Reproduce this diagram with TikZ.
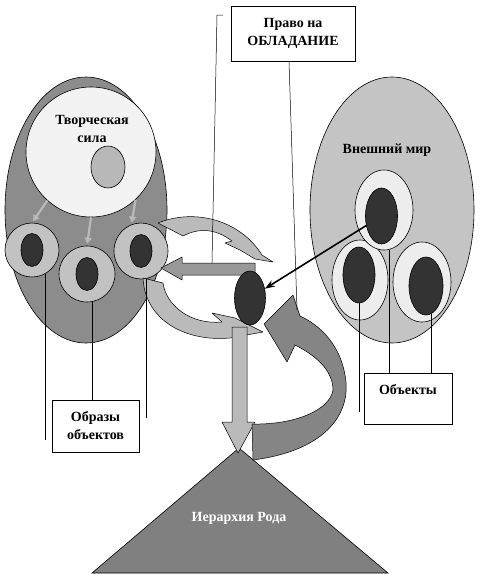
\documentclass[tikz,border=0pt]{standalone}
\usepackage{fontspec}
\setmainfont{Liberation Serif}
\usetikzlibrary{shapes.geometric,arrows.meta,positioning}

\definecolor{shellgray}{gray}{0.55}
\definecolor{glowgray}{gray}{0.95}
\definecolor{sparkgray}{gray}{0.72}
\definecolor{ringgray}{gray}{0.76}
\definecolor{seedgray}{gray}{0.2}
\definecolor{worldgray}{gray}{0.77}
\definecolor{palering}{gray}{0.93}
\definecolor{palegray}{gray}{0.73}
\definecolor{midgray}{gray}{0.6}
\definecolor{darkband}{gray}{0.52}
\definecolor{rankgray}{gray}{0.5}

\newcommand{\labelfont}{\bfseries\fontsize{14}{18}\selectfont}

\tikzset{
  blob/.style={ellipse, draw, line width=0.6pt, inner sep=0pt},
  ring/.style={blob, fill=ringgray},
  seed/.style={blob, fill=seedgray},
  label box/.style={draw, fill=white, line width=0.6pt, align=center, font=\labelfont, inner sep=0pt},
  caption/.style={font=\labelfont, align=center},
  lead/.style={line width=0.5pt},
  band/.style={draw, line width=0.5pt, line join=round},
  drip/.style={draw=palegray, line width=2.2pt, -{Triangle[length=6pt,width=7pt]}, shorten >=2pt}
}

\begin{document}
\begin{tikzpicture}[x=1pt, y=-1pt]
  % fix the page to the size of the picture
  \useasboundingbox (0,0) rectangle (480,574);

  % define the left oval with the creative force
  \node[blob, fill=shellgray, minimum width=162pt, minimum height=266pt] (mind) at (86,210) {};
  \node[blob, fill=glowgray, minimum width=130pt, minimum height=130pt] (force) at (91,152) {};
  \node[blob, fill=sparkgray, minimum width=34pt, minimum height=42pt] (spark) at (108,167) {};
  \node[caption] (forcetext) at (92,129) {Творческая\\сила};

  % images of the objects inside the left oval
  \node[ring, minimum width=54pt, minimum height=54pt] (ringL) at (32,250) {};
  \node[seed, minimum width=22pt, minimum height=33pt] (seedL) at (ringL) {};
  \node[ring, minimum width=56pt, minimum height=56pt] (ringM) at (87,274) {};
  \node[seed, minimum width=22pt, minimum height=33pt] (seedM) at (ringM) {};
  \node[ring, minimum width=54pt, minimum height=56pt] (ringR) at (141,251) {};
  \node[seed, minimum width=22pt, minimum height=33pt] (seedR) at (ringR) {};

  % small arrows from the force down to the images
  \draw[drip] (force.-132) -- (ringL.north);
  \draw[drip] (force.south) -- (ringM.north);
  \draw[drip] (force.-47) -- (ringR.110);

  % define the right oval with the outer world
  \node[blob, fill=worldgray, minimum width=164pt, minimum height=266pt] (world) at (392,210) {};
  \node[caption] (worldtext) at (387,150) {Внешний мир};
  \node[blob, fill=palering, minimum width=56pt, minimum height=80pt] (objB) at (360,280) {};
  \node[seed, minimum width=32pt, minimum height=56pt] (coreB) at (359,275) {};
  \node[blob, fill=palering, minimum width=58pt, minimum height=80pt] (objC) at (422,282) {};
  \node[seed, minimum width=34pt, minimum height=58pt] (coreC) at (426,286) {};
  \node[blob, fill=palering, minimum width=58pt, minimum height=80pt] (objA) at (384,210) {};
  \node[seed, minimum width=32pt, minimum height=56pt] (coreA) at (381.5,216) {};

  % the hierarchy of the kin
  \draw[fill=rankgray, line width=0.6pt] (239,448) -- (388,573) -- (92,573) -- cycle;
  \node[caption, text=white] (rank) at (239,518) {Иерархия Рода};

  % curved arrows round the centre
  \draw[band, fill=palegray] (158,223) .. controls (195,208) and (240,220) .. (262,255)
    -- (273,262) -- (255,259) -- (240,250) -- (225,243) -- (232,241)
    .. controls (215,228) and (198,228) .. (183,236) -- cycle;
  \draw[band, fill=palegray] (143,278) .. controls (145,320) and (185,342) .. (230,338)
    -- (263,332) -- (235,318) -- (212,313) -- (222,322)
    .. controls (190,325) and (166,305) .. (163,283) -- cycle;
  % straight arrows from the centre
  \draw[band, fill=midgray] (255,263) -- (182,263) -- (182,257) -- (161,268)
    -- (182,280) -- (182,275) -- (255,275) -- cycle;
  \draw[band, fill=palegray] (232,327) -- (232,422) -- (222,422) -- (238,453)
    -- (255,422) -- (247,422) -- (247,327) -- cycle;
  % big arrow back from the hierarchy
  \draw[band, fill=darkband] (253,460) .. controls (330,450) and (352,410) .. (345,375)
    .. controls (340,345) and (320,325) .. (300,316) -- (293,295) -- (264,324)
    -- (287,362) -- (295,345) .. controls (315,355) and (333,370) .. (333,390)
    .. controls (330,410) and (295,425) .. (252,424) -- cycle;

  % the centre
  \node[seed, minimum width=31pt, minimum height=54pt] (core) at (250,298) {};
  \draw[-{Stealth[length=10pt,width=7pt]}, line width=1.6pt] (coreA) -- (core);

  % define the boxes
  \node[label box, minimum width=124pt, minimum height=55pt] (ownbox) at (293,33.5) {Право на\\ОБЛАДАНИЕ};
  \node[label box, minimum width=87pt, minimum height=52pt] (imgbox) at (95.5,426) {Образы\\объектов};
  \node[label box, minimum width=88pt, minimum height=51pt] (objbox) at (408,398.5) {};
  \node[caption] (objtext) [below=8pt of objbox.north] {Объекты};

  % leads from the images
  \coordinate (leadL) at (45,440);
  \coordinate (leadR) at (146,418);
  \draw[lead] (ringL.-61) -- (ringL.-61 |- leadL);
  \draw[lead] (ringM.-80) -- (ringM.-80 |- imgbox.north);
  \draw[lead] (ringR.-79) -- (ringR.-79 |- leadR);

  % leads from the objects
  \coordinate (leadB) at (358,412);
  \draw[lead] (coreB.south) -- (coreB.south |- leadB);
  \draw[lead] (objA.-82) -- (objA.-82 |- objbox.north);
  \draw[lead] (coreC.-80) -- (coreC.-80 |- objbox.north);

  % leads from the right to own
  \coordinate (ownfoot) at (297,310);
  \coordinate (tickA) at (223,15);
  \coordinate (tickB) at (217,15);
  \coordinate (tickC) at (212,263);
  \draw[lead] ([xshift=-4pt]ownbox.south) -- (ownfoot);
  \draw[lead] (tickA) -- (tickB) -- (tickC);
\end{tikzpicture}
\end{document}
